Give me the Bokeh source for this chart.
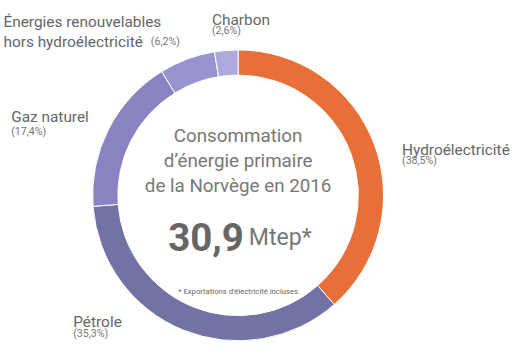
import math
from bokeh.plotting import figure
from bokeh.models import Range1d, ColumnDataSource
from bokeh.core.properties import value
from bokeh.embed import file_html
from bokeh.resources import INLINE

# ---- data ----
categories = ["Hydroélectricité", "Pétrole", "Gaz naturel",
              "Énergies renouvelables hors hydroélectricité", "Charbon"]
shares = [38.5, 35.3, 17.4, 6.2, 2.6]
share_labels = ["(38,5%)", "(35,3%)", "(17,4%)", "(6,2%)", "(2,6%)"]
total_value = "30,9"
total_unit = "Mtep*"
title_lines = ["Consommation", "d\u2019énergie primaire", "de la Norvège en 2016"]
footnote = "* Exportations d\u2019électricité incluses"

# ---- style / layout ----
colors = ["#E86F37", "#7372A4", "#8A83C1", "#9893D0", "#AEA9DB"]
FONT = value("Roboto")
W, H = 514, 341          # figure size in pixels
REF_W, REF_H = 530, 357  # design coordinate space
K = 0.962                # font scale

def fs(px):
    return f"{px * K:.1f}px"

def Y(py):  # design y (top-down) -> data y
    return REF_H - py

p = figure(width=W, height=H, output_backend="svg", toolbar_location=None,
           x_range=Range1d(0, REF_W), y_range=Range1d(0, REF_H),
           min_border=0)
p.axis.visible = False
p.grid.visible = False
p.outline_line_color = None
p.background_fill_color = "white"
p.border_fill_color = "white"

# donut
cx, cy = 245, Y(204)
tot = sum(shares)
starts, ends = [], []
cum = 0.0
for s in shares:
    starts.append(math.pi / 2 - 2 * math.pi * cum / tot)
    cum += s
    ends.append(math.pi / 2 - 2 * math.pi * cum / tot)
src = ColumnDataSource(dict(start=starts, end=ends, color=colors, cat=categories, val=shares))
p.annular_wedge(x=cx, y=cy, inner_radius=124, outer_radius=150,
                start_angle="start", end_angle="end", direction="clock",
                fill_color="color", line_color="white", line_width=1, source=src)

# center text
p.text(x=[245] * 3, y=[Y(142), Y(168), Y(194)], text=title_lines,
       text_font=FONT, text_font_size=fs(19.5), text_color="#777777",
       text_align="center", text_baseline="alphabetic")
p.text(x=[251], y=[Y(248)], text=[total_value], text_font=FONT,
       text_font_size=fs(40), text_font_style="bold", text_color="#666666",
       text_align="right", text_baseline="alphabetic")
p.text(x=[256], y=[Y(248)], text=[total_unit], text_font=FONT,
       text_font_size=fs(24), text_color="#777777",
       text_align="left", text_baseline="alphabetic")
p.text(x=[245], y=[Y(305)], text=[footnote], text_font=FONT,
       text_font_size=fs(8), text_color="#666666",
       text_align="center", text_baseline="alphabetic")

# category labels (name lines)
name_text = ["Hydroélectricité", "Pétrole", "Gaz naturel",
             "Énergies renouvelables", "hors hydroélectricité", "Charbon"]
name_x = [414, 75, 11, 3, 3, 218]
name_y = [Y(157), Y(337), Y(122), Y(22), Y(43), Y(20)]
p.text(x=name_x, y=name_y, text=name_text, text_font=FONT,
       text_font_size=fs(16), text_color="#666666",
       text_align="left", text_baseline="alphabetic")

# share labels
pct_x = [414, 75, 11, 155, 218]
pct_y = [Y(168), Y(349), Y(137), Y(43), Y(31)]
p.text(x=pct_x, y=pct_y, text=share_labels, text_font=FONT,
       text_font_size=fs(11), text_color="#777777",
       text_align="left", text_baseline="alphabetic")

open("out.html", "w").write(file_html(p, INLINE))
